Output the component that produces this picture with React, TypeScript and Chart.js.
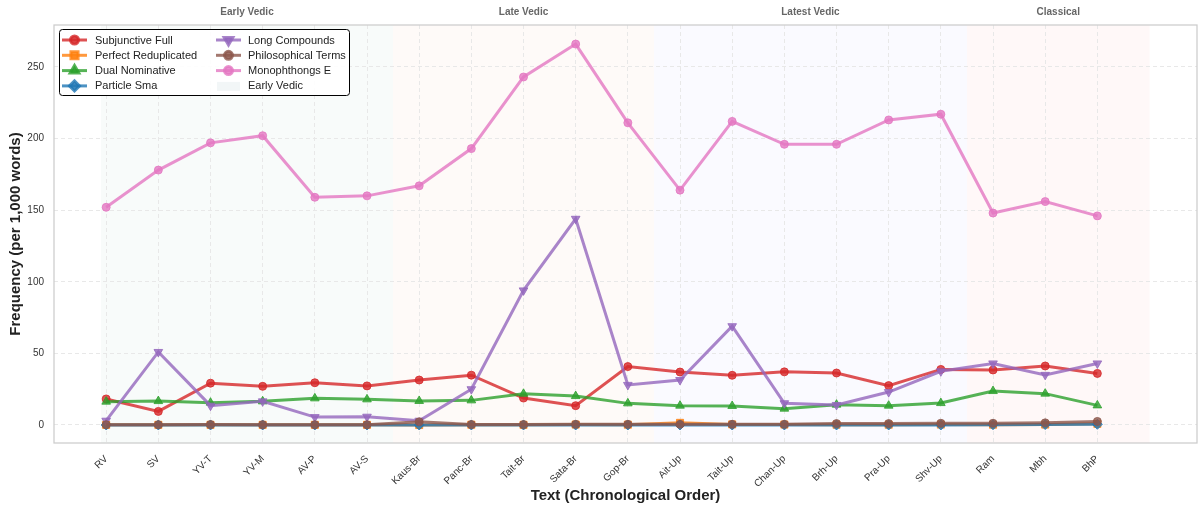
import React, { useEffect, useRef } from 'react';
import { Chart, registerables } from 'chart.js';
import { drawPoint } from 'chart.js/helpers';

Chart.register(...registerables);

const FONT = '"Liberation Sans", Arial, Helvetica, sans-serif';

const categories = ['RV', 'SV', 'YV-T', 'YV-M', 'AV-P', 'AV-S', 'Kaus-Br', 'Panc-Br', 'Tait-Br', 'Sata-Br', 'Gop-Br', 'Ait-Up', 'Tait-Up', 'Chan-Up', 'Brh-Up', 'Pra-Up', 'Shv-Up', 'Ram', 'Mbh', 'BhP'];

const subjunctiveFull = [18.2, 9.5, 29.2, 27.0, 29.5, 27.3, 31.4, 34.8, 18.8, 13.5, 40.8, 37.0, 34.7, 37.1, 36.3, 27.5, 38.8, 38.4, 41.2, 36.0];
const perfectReduplicated = [0.1, 0.1, 0.1, 0.1, 0.1, 0.1, 0.0, 0.2, 0.1, 0.3, 0.2, 1.5, 0.4, 0.3, 0.2, 0.2, 0.3, 0.2, 0.3, 0.8];
const dualNominative = [16.3, 16.7, 15.6, 16.5, 18.6, 17.9, 16.8, 17.2, 21.8, 20.2, 15.1, 13.5, 13.3, 11.4, 14.2, 13.5, 15.3, 23.7, 21.9, 13.7];
const particleSma = [0.0, 0.0, 0.0, 0.0, 0.0, 0.0, 0.0, 0.0, 0.0, 0.0, 0.0, 0.0, 0.0, 0.0, 0.0, 0.0, 0.0, 0.2, 0.3, 0.5];
const longCompounds = [3.0, 51.0, 13.5, 16.5, 5.5, 5.8, 3.0, 25.0, 94.0, 144.0, 28.0, 31.4, 69.0, 15.2, 14.0, 23.0, 37.5, 43.0, 35.0, 43.0];
const philosophicalTerms = [0.2, 0.2, 0.3, 0.2, 0.2, 0.2, 2.2, 0.3, 0.3, 0.5, 0.5, 0.5, 0.5, 0.5, 1.0, 1.0, 1.2, 1.2, 1.5, 2.5];
const monophthongsE = [152, 178, 197, 202, 159, 160, 167, 193, 243, 266, 211, 164, 212, 196, 196, 213, 217, 148, 156, 146];

const yTicks = [0, 50, 100, 150, 200, 250];

const periodNames = ['Early Vedic', 'Late Vedic', 'Latest Vedic', 'Classical'];
const periodStarts = [-0.1, 5.5, 10.5, 16.5];
const periodEnds = [5.5, 10.5, 16.5, 20.0];
const periodColors = ['#f8fbfa', '#fefaf8', '#fafaff', '#fff8f8'];

const series = [
  { name: 'Subjunctive Full', values: subjunctiveFull, rgb: '214,39,40', style: 'circle', rot: 0, r: 4 },
  { name: 'Perfect Reduplicated', values: perfectReduplicated, rgb: '255,127,14', style: 'rect', rot: 0, r: 5 },
  { name: 'Dual Nominative', values: dualNominative, rgb: '44,160,44', style: 'triangle', rot: 0, r: 5 },
  { name: 'Particle Sma', values: particleSma, rgb: '31,119,180', style: 'rectRot', rot: 0, r: 5 },
  { name: 'Long Compounds', values: longCompounds, rgb: '148,103,189', style: 'triangle', rot: 180, r: 5 },
  { name: 'Philosophical Terms', values: philosophicalTerms, rgb: '140,86,75', style: 'circle', rot: 0, r: 4 },
  { name: 'Monophthongs E', values: monophthongsE, rgb: '227,119,194', style: 'circle', rot: 0, r: 4 },
];

const rgba = (rgb: string, a: number) => `rgba(${rgb},${a})`;

const customPlugin = {
  id: 'customDecor',
  beforeDraw(chart: any) {
    const { ctx, chartArea, scales } = chart;
    const x = scales.x;
    ctx.save();
    for (let i = 0; i < periodNames.length; i++) {
      const x0 = x.getPixelForValue(periodStarts[i]);
      const x1 = x.getPixelForValue(periodEnds[i]);
      ctx.fillStyle = periodColors[i];
      ctx.fillRect(x0, chartArea.top, x1 - x0, chartArea.bottom - chartArea.top);
    }
    ctx.restore();
  },
  afterDatasetsDraw(chart: any) {
    const { ctx, chartArea } = chart;
    ctx.save();
    ctx.strokeStyle = '#cccccc';
    ctx.lineWidth = 1.25;
    ctx.strokeRect(chartArea.left, chartArea.top, chartArea.right - chartArea.left, chartArea.bottom - chartArea.top);

    const bx = 59.5, by = 29.5, bw = 290, bh = 66;
    ctx.beginPath();
    (ctx as any).roundRect(bx, by, bw, bh, 3);
    ctx.fillStyle = 'rgba(255,255,255,0.9)';
    ctx.fill();
    ctx.strokeStyle = '#000';
    ctx.lineWidth = 1;
    ctx.stroke();

    const rows = [40, 55.3, 70.6, 85.9];
    const cols = [{ l0: 62, l1: 87, m: 74.5, t: 95 }, { l0: 216, l1: 241, m: 228.5, t: 248 }];
    ctx.font = `11px ${FONT}`;
    ctx.textBaseline = 'middle';
    ctx.textAlign = 'left';
    const items: any[] = [...series, { name: 'Early Vedic', patch: true }];
    items.forEach((it, k) => {
      const col = cols[Math.floor(k / 4)];
      const y = rows[k % 4];
      if (it.patch) {
        ctx.fillStyle = '#f2f6f7';
        ctx.fillRect(col.l0 + 1, y - 4, col.l1 - col.l0 - 2, 9);
      } else {
        const c = rgba(it.rgb, 0.8);
        ctx.strokeStyle = c;
        ctx.lineWidth = 3;
        ctx.beginPath();
        ctx.moveTo(col.l0, y);
        ctx.lineTo(col.l1, y);
        ctx.stroke();
        ctx.fillStyle = c;
        ctx.strokeStyle = c;
        drawPoint(ctx, { pointStyle: it.style, rotation: it.rot, radius: it.r, borderWidth: 1 } as any, col.m, y);
      }
      ctx.fillStyle = '#222';
      ctx.fillText(it.name, col.t, y + 0.5);
    });
    ctx.restore();
  },
  afterDraw(chart: any) {
    const { ctx, scales } = chart;
    const x = scales.x;
    ctx.save();
    ctx.font = `bold 10px ${FONT}`;
    ctx.fillStyle = '#666';
    ctx.textAlign = 'center';
    ctx.textBaseline = 'middle';
    for (let i = 0; i < periodNames.length; i++) {
      const c = x.getPixelForValue((periodStarts[i] + periodEnds[i]) / 2);
      ctx.fillText(periodNames[i], c, 12);
    }
    ctx.restore();
  },
};

export default function App() {
  const ref = useRef<HTMLCanvasElement>(null);
  useEffect(() => {
    document.body.style.margin = '0';
    const chart = new Chart(ref.current as HTMLCanvasElement, {
      type: 'line',
      data: {
        datasets: series.map((s, i) => ({
          label: s.name,
          data: s.values.map((v, j) => ({ x: j, y: v })),
          borderColor: rgba(s.rgb, 0.8),
          backgroundColor: rgba(s.rgb, 0.8),
          pointBackgroundColor: rgba(s.rgb, 0.8),
          pointBorderColor: rgba(s.rgb, 0.8),
          borderWidth: 3,
          pointStyle: s.style as any,
          pointRotation: s.rot,
          pointRadius: s.r,
          pointBorderWidth: 1,
          tension: 0,
          order: series.length - i,
        })),
      },
      options: {
        animation: false,
        responsive: false,
        maintainAspectRatio: false,
        layout: { autoPadding: false, padding: { top: 25, right: 1, left: 0, bottom: 0 } },
        plugins: { legend: { display: false }, tooltip: { enabled: false } },
        scales: {
          x: {
            type: 'linear',
            min: -1,
            max: 20.91,
            afterBuildTicks: (s: any) => {
              s.ticks = categories.map((_, i) => ({ value: i }));
            },
            afterFit: (s: any) => {
              s.height = 65;
              s.paddingLeft = 0;
              s.paddingRight = 0;
            },
            ticks: {
              autoSkip: false,
              minRotation: 45,
              maxRotation: 45,
              padding: 10,
              color: '#333',
              font: { size: 10, family: FONT },
              callback: (v: any) => categories[Math.round(Number(v))] ?? '',
            },
            grid: { color: '#e8e8e8', lineWidth: 1, drawTicks: false },
            border: { display: false, dash: [4, 3] },
            title: {
              display: true,
              text: 'Text (Chronological Order)',
              color: '#222',
              font: { size: 15, weight: 'bold', family: FONT },
              padding: { top: 0, bottom: 3 },
            },
          },
          y: {
            type: 'linear',
            min: -12.57,
            max: 279.3,
            afterBuildTicks: (s: any) => {
              s.ticks = yTicks.map((v) => ({ value: v }));
            },
            afterFit: (s: any) => {
              s.width = 54;
              s.paddingTop = 0;
              s.paddingBottom = 0;
            },
            ticks: {
              padding: 10,
              color: '#333',
              font: { size: 10, family: FONT },
            },
            grid: { color: '#e8e8e8', lineWidth: 1, drawTicks: false },
            border: { display: false, dash: [4, 3] },
            title: {
              display: true,
              text: 'Frequency (per 1,000 words)',
              color: '#222',
              font: { size: 15, weight: 'bold', family: FONT },
              padding: { top: 7, bottom: 0 },
            },
          },
        },
      },
      plugins: [customPlugin],
    } as any);
    return () => chart.destroy();
  }, []);
  return (
    <div style={{ position: 'absolute', left: 0, top: 0, width: 1198, height: 508 }}>
      <canvas ref={ref} width={1198} height={508} style={{ display: 'block', width: 1198, height: 508 }} />
    </div>
  );
}
